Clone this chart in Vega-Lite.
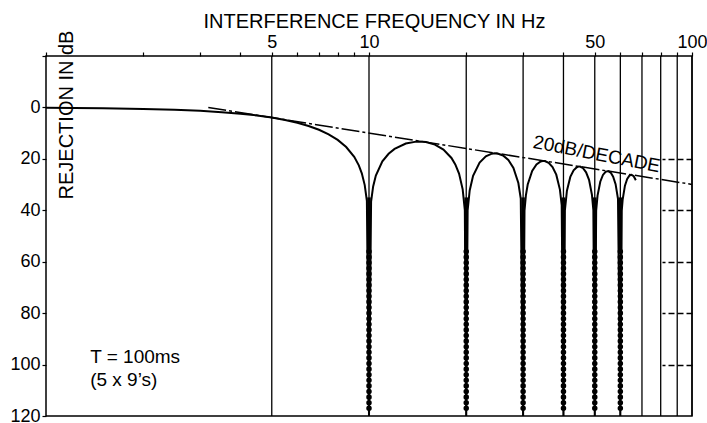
{
  "$schema": "https://vega.github.io/schema/vega-lite/v6.json",
  "width": 646,
  "height": 360,
  "autosize": "none",
  "padding": {"left": 46, "top": 56, "right": 15, "bottom": 7},
  "background": "white",
  "config": {
    "font": "Liberation Sans",
    "view": {"stroke": "black", "strokeWidth": 1.5},
    "axis": {"labelColor": "black", "titleColor": "black", "tickColor": "black", "grid": false, "domain": false}
  },
  "datasets": {
    "curve": [
      {"f": 1, "db": 0.14}, {"f": 1.5, "db": 0.32}, {"f": 2, "db": 0.58}, {"f": 2.5, "db": 0.91},
      {"f": 3, "db": 1.33}, {"f": 3.5, "db": 1.83}, {"f": 4, "db": 2.42}, {"f": 4.5, "db": 3.12},
      {"f": 5, "db": 3.92}, {"f": 5.5, "db": 4.86}, {"f": 6, "db": 5.94}, {"f": 6.5, "db": 7.2},
      {"f": 7, "db": 8.69}, {"f": 7.5, "db": 10.45}, {"f": 8, "db": 12.62}, {"f": 8.5, "db": 15.39},
      {"f": 9, "db": 19.23}, {"f": 9.3, "db": 22.54}, {"f": 9.5, "db": 25.61}, {"f": 9.7, "db": 30.21},
      {"f": 9.85, "db": 36.35}, {"f": 10, "db": 120},
      {"f": 10.15, "db": 36.61}, {"f": 10.3, "db": 30.73}, {"f": 10.5, "db": 26.48}, {"f": 11, "db": 20.97},
      {"f": 11.5, "db": 18.02}, {"f": 12, "db": 16.14}, {"f": 13, "db": 14.06}, {"f": 14, "db": 13.3},
      {"f": 14.3, "db": 13.26}, {"f": 15, "db": 13.46}, {"f": 16, "db": 14.46}, {"f": 17, "db": 16.39},
      {"f": 18, "db": 19.66}, {"f": 18.5, "db": 22.15}, {"f": 19, "db": 25.72}, {"f": 19.5, "db": 31.86},
      {"f": 19.8, "db": 39.92}, {"f": 20, "db": 120},
      {"f": 20.2, "db": 40.09}, {"f": 20.5, "db": 32.29}, {"f": 21, "db": 26.59}, {"f": 22, "db": 21.41},
      {"f": 23, "db": 19.02}, {"f": 24, "db": 17.98}, {"f": 24.5, "db": 17.83}, {"f": 25, "db": 17.9},
      {"f": 26, "db": 18.68}, {"f": 27, "db": 20.41}, {"f": 28, "db": 23.5}, {"f": 29, "db": 29.39},
      {"f": 29.5, "db": 35.45}, {"f": 30, "db": 120},
      {"f": 30.3, "db": 40.1}, {"f": 30.6, "db": 34.2}, {"f": 31, "db": 29.97}, {"f": 32, "db": 24.66},
      {"f": 33, "db": 22.15}, {"f": 34, "db": 21.01}, {"f": 34.5, "db": 20.81}, {"f": 35, "db": 20.82},
      {"f": 36, "db": 21.5}, {"f": 37, "db": 23.15}, {"f": 38, "db": 26.15}, {"f": 39, "db": 31.96},
      {"f": 39.5, "db": 37.99}, {"f": 40, "db": 120},
      {"f": 40.4, "db": 40.11}, {"f": 41, "db": 32.4}, {"f": 42, "db": 27.02}, {"f": 43, "db": 24.45},
      {"f": 44, "db": 23.25}, {"f": 44.5, "db": 23.02}, {"f": 45, "db": 23.01}, {"f": 46, "db": 23.63},
      {"f": 47, "db": 25.23}, {"f": 48, "db": 28.18}, {"f": 49, "db": 33.95}, {"f": 49.5, "db": 39.95},
      {"f": 50, "db": 120},
      {"f": 50.5, "db": 40.12}, {"f": 51, "db": 34.29}, {"f": 52, "db": 28.88}, {"f": 53, "db": 26.27},
      {"f": 54, "db": 25.03}, {"f": 55, "db": 24.75}, {"f": 56, "db": 25.34}, {"f": 57, "db": 26.9},
      {"f": 58, "db": 29.83}, {"f": 59, "db": 35.56}, {"f": 60, "db": 120},
      {"f": 60.6, "db": 40.14}, {"f": 61, "db": 35.85}, {"f": 62, "db": 30.41}, {"f": 63, "db": 27.77},
      {"f": 64, "db": 26.5}, {"f": 65, "db": 26.2}, {"f": 66, "db": 26.77}, {"f": 67, "db": 28.31}
    ],
    "asym": [{"f": 3.18, "db": 0}, {"f": 100, "db": 29.94}],
    "grid": [{"f": 5}, {"f": 10}, {"f": 20}, {"f": 30}, {"f": 40}, {"f": 50}, {"f": 60}, {"f": 70}, {"f": 80}, {"f": 90}, {"f": 100}],
    "nulls": [{"f": 10}, {"f": 20}, {"f": 30}, {"f": 40}, {"f": 50}, {"f": 60}],
    "notes": [{"f": 1.37, "db": 97.1, "text": "T = 100ms"}, {"f": 1.37, "db": 106.0, "text": "(5 x 9’s)"}],
    "slope": [{"f": 50.7, "db": 18.2, "text": "20dB/DECADE"}]
  },
  "resolve": {"axis": {"x": "independent", "y": "independent"}},
  "layer": [
    {
      "data": {"name": "grid"},
      "mark": {"type": "rule", "color": "black", "strokeWidth": 1.3},
      "encoding": {
        "x": {
          "field": "f", "type": "quantitative",
          "scale": {"type": "log", "domain": [1, 100], "nice": false},
          "axis": {
            "orient": "top",
            "values": [1, 2, 3, 4, 5, 6, 7, 8, 9, 10, 20, 30, 40, 50, 60, 70, 80, 90, 100],
            "labelExpr": "datum.value == 5 || datum.value == 10 || datum.value == 50 || datum.value == 100 ? format(datum.value, 'd') : ''",
            "tickSize": 4, "tickWidth": 1.2, "labelPadding": 1, "labelFontSize": 18, "labelFlush": false, "labelOverlap": false,
            "title": "INTERFERENCE FREQUENCY IN Hz", "titleFontSize": 20, "titleFontWeight": "normal",
            "titleX": 328, "titleY": -29, "titleBaseline": "alphabetic", "titleAlign": "center"
          }
        }
      }
    },
    {
      "data": {"name": "asym"},
      "mark": {"type": "line", "color": "black", "strokeWidth": 1.5, "strokeDash": [18, 3, 3, 3]},
      "encoding": {
        "x": {"field": "f", "type": "quantitative", "scale": {"type": "log", "domain": [1, 100], "nice": false}, "axis": null},
        "y": {
          "field": "db", "type": "quantitative",
          "scale": {"domain": [-20, 120], "reverse": true, "nice": false, "zero": false},
          "axis": {
            "orient": "right", "values": [20, 40, 60, 80, 100], "labels": false, "tickSize": -30,
            "tickDash": [6, 3], "tickWidth": 1.3, "title": null
          }
        }
      }
    },
    {
      "data": {"name": "curve"},
      "mark": {"type": "line", "color": "black", "strokeWidth": 2, "clip": true},
      "encoding": {
        "x": {"field": "f", "type": "quantitative", "scale": {"type": "log", "domain": [1, 100], "nice": false}, "axis": null},
        "y": {
          "field": "db", "type": "quantitative",
          "scale": {"domain": [-20, 120], "reverse": true, "nice": false, "zero": false},
          "axis": {
            "orient": "left", "values": [-20, 0, 20, 40, 60, 80, 100, 120],
            "labelExpr": "datum.value < 0 ? '' : format(datum.value, 'd')",
            "tickSize": 4, "tickWidth": 1.2, "labelPadding": 2, "labelFontSize": 18,
            "title": "REJECTION IN dB", "titleFontSize": 20, "titleFontWeight": "normal",
            "titleAngle": 270, "titleX": 20.5, "titleY": 58.5, "titleAlign": "center", "titleBaseline": "middle"
          }
        }
      }
    },
    {
      "data": {"name": "nulls"},
      "mark": {"type": "rule", "color": "black", "strokeWidth": 3.5},
      "encoding": {
        "x": {"field": "f", "type": "quantitative", "scale": {"type": "log", "domain": [1, 100], "nice": false}, "axis": null},
        "y": {"datum": 35, "type": "quantitative", "scale": {"domain": [-20, 120], "reverse": true, "nice": false, "zero": false}, "axis": null},
        "y2": {"datum": 56}
      }
    },
    {
      "data": {"name": "nulls"},
      "mark": {"type": "rule", "color": "black", "strokeWidth": 5.5, "strokeDash": [0.1, 5.5], "strokeCap": "round"},
      "encoding": {
        "x": {"field": "f", "type": "quantitative", "scale": {"type": "log", "domain": [1, 100], "nice": false}, "axis": null},
        "y": {"datum": 56, "type": "quantitative", "scale": {"domain": [-20, 120], "reverse": true, "nice": false, "zero": false}, "axis": null},
        "y2": {"datum": 119}
      }
    },
    {
      "data": {"name": "notes"},
      "mark": {"type": "text", "align": "left", "baseline": "middle", "fontSize": 19, "color": "black"},
      "encoding": {
        "x": {"field": "f", "type": "quantitative", "scale": {"type": "log", "domain": [1, 100], "nice": false}, "axis": null},
        "y": {"field": "db", "type": "quantitative", "scale": {"domain": [-20, 120], "reverse": true, "nice": false, "zero": false}, "axis": null},
        "text": {"field": "text"}
      }
    },
    {
      "data": {"name": "slope"},
      "mark": {"type": "text", "align": "center", "baseline": "middle", "fontSize": 19, "angle": 11, "color": "black"},
      "encoding": {
        "x": {"field": "f", "type": "quantitative", "scale": {"type": "log", "domain": [1, 100], "nice": false}, "axis": null},
        "y": {"field": "db", "type": "quantitative", "scale": {"domain": [-20, 120], "reverse": true, "nice": false, "zero": false}, "axis": null},
        "text": {"field": "text"}
      }
    }
  ]
}
